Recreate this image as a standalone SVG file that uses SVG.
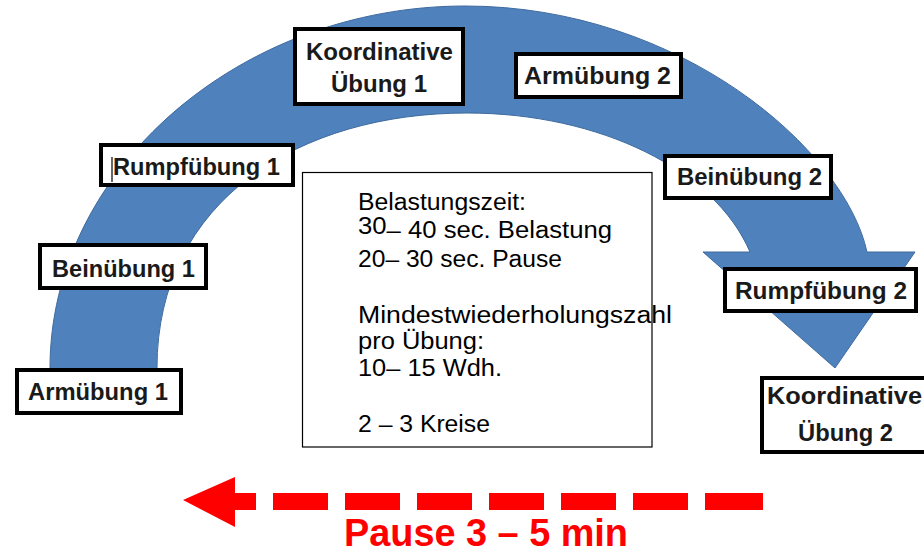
<svg xmlns="http://www.w3.org/2000/svg" width="924" height="553" viewBox="0 0 924 553">
<style>
.box{fill:#fff;stroke:#000;stroke-width:4}
.lbl{font-family:"Liberation Sans",Arial,sans-serif;font-weight:bold;font-size:23px;fill:#1a1a1a;text-anchor:middle}
.info{font-family:"Liberation Sans",Arial,sans-serif;font-size:23px;fill:#000}
.red{fill:#ff0000}
</style>
<rect width="924" height="553" fill="#fff"/>
<g id="connectors">
  <path id="cycle-arrow" d="M50,380 L50,368 C50,170 240,6 465,6 C680,6 845,150 867,252 L915,252 L835,368 L703,252 L750,252 C715,170 600,113 467,113 C300,113 157,200 157,368 L157,380 Z" fill="#4F81BD" stroke="#3E6A9E" stroke-width="1"/>
  <g id="pause-arrow" class="red">
    <path d="M183,500 L235,477 L235,493 L256,493 L256,510 L235,510 L235,527 Z"/>
    <rect x="273" y="493" width="55" height="17"/>
    <rect x="345" y="493" width="55" height="17"/>
    <rect x="417" y="493" width="55" height="17"/>
    <rect x="489" y="493" width="55" height="17"/>
    <rect x="561" y="493" width="55" height="17"/>
    <rect x="633" y="493" width="55" height="17"/>
    <rect x="705" y="493" width="58" height="17"/>
  </g>
</g>
<g id="info-box">
  <rect x="302.5" y="172.5" width="349.5" height="274.5" fill="#fff" stroke="#000" stroke-width="1.2"/>
  <text class="info" x="358" y="210" textLength="168" lengthAdjust="spacingAndGlyphs">Belastungszeit:</text>
  <text class="info" x="358" y="238" textLength="254" lengthAdjust="spacingAndGlyphs"><tspan y="234">30</tspan><tspan y="238">– 40 sec. Belastung</tspan></text>
  <text class="info" x="358" y="267" textLength="204" lengthAdjust="spacingAndGlyphs">20– 30 sec. Pause</text>
  <text class="info" x="358" y="323" textLength="314" lengthAdjust="spacingAndGlyphs">Mindestwiederholungszahl</text>
  <text class="info" x="358" y="349" textLength="126" lengthAdjust="spacingAndGlyphs">pro Übung:</text>
  <text class="info" x="358" y="376" textLength="144" lengthAdjust="spacingAndGlyphs">10– 15 Wdh.</text>
  <text class="info" x="358" y="432" textLength="132" lengthAdjust="spacingAndGlyphs">2 – 3 Kreise</text>
</g>
<g id="armuebung-1">
  <rect class="box" x="17" y="370" width="164" height="43"/>
  <text class="lbl" x="98" y="400" textLength="140" lengthAdjust="spacingAndGlyphs">Armübung 1</text>
</g>
<g id="beinuebung-1">
  <rect class="box" x="40" y="245" width="166" height="43"/>
  <text class="lbl" x="123.5" y="277" textLength="143" lengthAdjust="spacingAndGlyphs">Beinübung 1</text>
</g>
<g id="rumpfuebung-1">
  <rect class="box" x="101" y="145" width="192" height="40"/>
  <line x1="112" y1="157" x2="112" y2="182" stroke="#000" stroke-width="1.2"/>
  <text class="lbl" x="196.5" y="175" textLength="167" lengthAdjust="spacingAndGlyphs">Rumpfübung 1</text>
</g>
<g id="koordinative-1">
  <rect class="box" x="295" y="29" width="168" height="75"/>
  <text class="lbl" x="379.5" y="60" textLength="147" lengthAdjust="spacingAndGlyphs">Koordinative</text>
  <text class="lbl" x="379" y="92" textLength="96" lengthAdjust="spacingAndGlyphs">Übung 1</text>
</g>
<g id="armuebung-2">
  <rect class="box" x="516" y="54" width="165" height="43"/>
  <text class="lbl" x="597.5" y="84" textLength="147" lengthAdjust="spacingAndGlyphs">Armübung 2</text>
</g>
<g id="beinuebung-2">
  <rect class="box" x="665" y="156" width="166" height="42"/>
  <text class="lbl" x="749.5" y="185" textLength="145" lengthAdjust="spacingAndGlyphs">Beinübung 2</text>
</g>
<g id="rumpfuebung-2">
  <rect class="box" x="725" y="269" width="191" height="42"/>
  <text class="lbl" x="821" y="299" textLength="172" lengthAdjust="spacingAndGlyphs">Rumpfübung 2</text>
</g>
<g id="koordinative-2">
  <rect class="box" x="762" y="378" width="164" height="74"/>
  <text class="lbl" x="844.5" y="404" textLength="155" lengthAdjust="spacingAndGlyphs">Koordinative</text>
  <text class="lbl" x="845.5" y="441" textLength="95" lengthAdjust="spacingAndGlyphs">Übung 2</text>
</g>
<text x="486" y="546" font-family="'Liberation Sans',Arial,sans-serif" font-weight="bold" font-size="38" fill="#ff0000" text-anchor="middle" textLength="284" lengthAdjust="spacingAndGlyphs">Pause 3 – 5 min</text>
</svg>
